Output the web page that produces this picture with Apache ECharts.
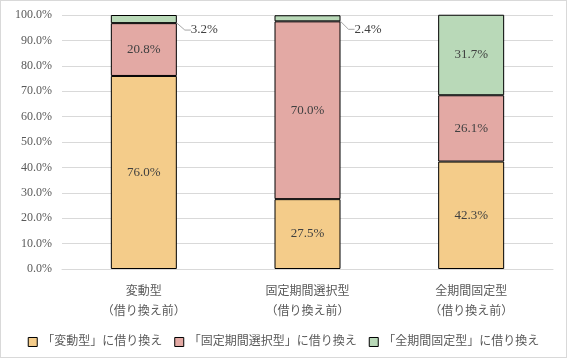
<!DOCTYPE html>
<html><head><meta charset="utf-8">
<script src="https://cdn.jsdelivr.net/npm/echarts@6/dist/echarts.min.js"></script>
<style>html,body{margin:0;padding:0;background:#fff}#c{width:565px;height:356px;border:1px solid #d9d9d9}</style>
</head><body><div id="c"></div>
<script>
const categories = ['変動型\n（借り換え前）', '固定期間選択型\n（借り換え前）', '全期間固定型\n（借り換え前）'];
const seriesNames = ['「変動型」に借り換え', '「固定期間選択型」に借り換え', '「全期間固定型」に借り換え'];
const variableVals = [76.0, 27.5, 42.3];
const fixedPeriodVals = [20.8, 70.0, 26.1];
const fullFixedVals = [3.2, 2.4, 31.7];
const yTicks = [0, 10, 20, 30, 40, 50, 60, 70, 80, 90, 100];
const colors = ['#F4CC8A', '#E3A9A4', '#B9D9B8'];
const FONT = '"Liberation Serif", "Noto Sans CJK JP", serif';

const chart = echarts.init(document.getElementById('c'));
const lbl = {show: true, position: 'inside', color: '#404040', fontFamily: FONT, fontSize: 13,
  formatter: p => p.value.toFixed(1) + '%'};
function mk(name, data, color, idx) {
  const s = {name, type: 'bar', stack: 't', data: data.slice(), barWidth: 66,
    itemStyle: {color, borderColor: '#000', borderWidth: 1},
    label: lbl, animation: false};
  if (idx === 2) {
    s.data = data.map((v, i) => i < 2 ? {value: v, label: {position: 'right', distance: 4},
      labelLine: {show: true, lineStyle: {color: '#a6a6a6', width: 1}}} : v);
    s.labelLayout = function (p) {
      if (p.dataIndex < 2) return {dx: 10, dy: 11};
      return {};
    };
    s.labelLine = {show: true, length2: 6, lineStyle: {color: '#a6a6a6', width: 1}};
  }
  return s;
}
chart.setOption({
  animation: false,
  grid: {left: 61, right: 13, top: 14, bottom: 88},
  legend: {bottom: 4, left: 'center', itemWidth: 9, itemHeight: 9, itemGap: 12,
    textStyle: {color: '#595959', fontFamily: FONT, fontSize: 12},
    data: seriesNames.map((n, i) => ({name: n, icon: 'rect', itemStyle: {borderColor: '#000', borderWidth: 1}}))},
  xAxis: {type: 'category', data: categories,
    axisLine: {lineStyle: {color: '#d9d9d9'}}, axisTick: {show: false},
    axisLabel: {color: '#595959', fontFamily: FONT, fontSize: 12, lineHeight: 20, margin: 13}},
  yAxis: {type: 'value', min: 0, max: 100, interval: 10,
    axisLine: {show: false}, axisTick: {show: false},
    splitLine: {lineStyle: {color: '#d9d9d9'}},
    axisLabel: {color: '#595959', fontFamily: FONT, fontSize: 12, margin: 10,
      formatter: v => yTicks.includes(v) ? v.toFixed(1) + '%' : ''}},
  series: [mk(seriesNames[0], variableVals, colors[0], 0), mk(seriesNames[1], fixedPeriodVals, colors[1], 1), mk(seriesNames[2], fullFixedVals, colors[2], 2)]
});
</script></body></html>
